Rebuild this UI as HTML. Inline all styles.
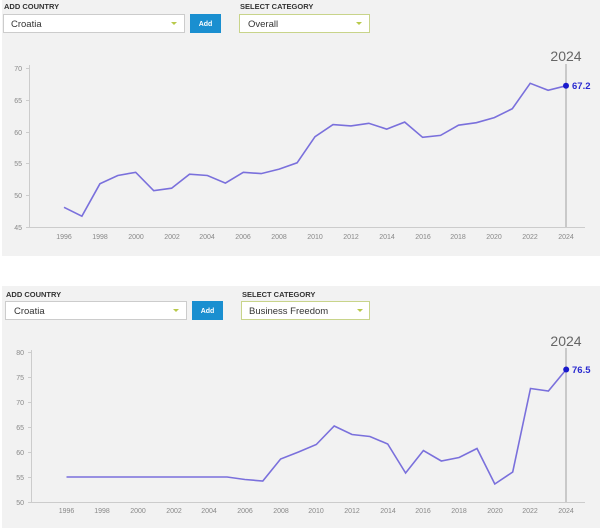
<!DOCTYPE html>
<html><head><meta charset="utf-8"><style>
html,body{margin:0;padding:0;background:#fff;width:600px;height:528px;overflow:hidden}
svg{display:block;font-family:"Liberation Sans",sans-serif}
</style></head><body>
<svg width="600" height="528" viewBox="0 0 600 528">
<rect x="2" y="0" width="598" height="256" fill="#f2f2f2"/>
<rect x="2" y="286" width="598" height="242" fill="#f2f2f2"/>
<g font-size="7.5" font-weight="bold" fill="#333">
<text x="4" y="9">ADD COUNTRY</text><text x="240" y="9">SELECT CATEGORY</text>
<text x="6" y="297">ADD COUNTRY</text><text x="242" y="297">SELECT CATEGORY</text>
</g>
<rect x="3.5" y="14.5" width="181" height="18" fill="#fff" stroke="#ccc"/>
<text x="11" y="27" font-size="9.5" fill="#333">Croatia</text>
<path d="M171 22 l3 3 l3 -3z" fill="#b8c94a"/>
<rect x="190" y="14" width="31" height="19" fill="#1a8fd0"/>
<text x="205.5" y="26" font-size="7" font-weight="bold" fill="#fff" text-anchor="middle">Add</text>
<rect x="239.5" y="14.5" width="130" height="18" fill="#fff" stroke="#c8d48a"/>
<text x="248" y="27" font-size="9.5" fill="#333">Overall</text>
<path d="M356 22 l3 3 l3 -3z" fill="#b8c94a"/>

<rect x="5.5" y="301.5" width="181" height="18" fill="#fff" stroke="#ccc"/>
<text x="14" y="314" font-size="9.5" fill="#333">Croatia</text>
<path d="M173 309 l3 3 l3 -3z" fill="#b8c94a"/>
<rect x="192" y="301" width="31" height="19" fill="#1a8fd0"/>
<text x="207.5" y="313" font-size="7" font-weight="bold" fill="#fff" text-anchor="middle">Add</text>
<rect x="241.5" y="301.5" width="128" height="18" fill="#fff" stroke="#c8d48a"/>
<text x="249" y="314" font-size="9.5" fill="#333">Business Freedom</text>
<path d="M357 309 l3 3 l3 -3z" fill="#b8c94a"/>

<!-- top chart -->
<g stroke="#ccc" stroke-width="1" fill="none">
<path d="M29.5 65 V228 M29 227.5 H585"/>
<path d="M26 68.5h4M26 100.5h4M26 132.5h4M26 163.5h4M26 195.5h4M26 227.5h4"/>
</g>
<g font-size="7" fill="#888" text-anchor="end">
<text x="22" y="71">70</text><text x="22" y="103">65</text><text x="22" y="135">60</text><text x="22" y="166">55</text><text x="22" y="198">50</text><text x="22" y="230">45</text>
</g>
<g font-size="7" fill="#888" text-anchor="middle">
<text x="64" y="239">1996</text><text x="100" y="239">1998</text><text x="136" y="239">2000</text><text x="172" y="239">2002</text><text x="207" y="239">2004</text><text x="243" y="239">2006</text><text x="279" y="239">2008</text><text x="315" y="239">2010</text><text x="351" y="239">2012</text><text x="387" y="239">2014</text><text x="423" y="239">2016</text><text x="458" y="239">2018</text><text x="494" y="239">2020</text><text x="530" y="239">2022</text><text x="566" y="239">2024</text>
</g>
<line x1="566" y1="64" x2="566" y2="227" stroke="#bbb" stroke-width="1.5"/>
<text x="566" y="61" font-size="14" fill="#666" text-anchor="middle">2024</text>
<polyline fill="none" stroke="#7a70dc" stroke-width="1.6" points="64,207.3 81.9,216.2 99.9,183.8 117.8,175.5 135.7,172.3 153.7,190.7 171.6,188.2 189.5,174.2 207.4,175.5 225.4,183.1 243.3,172.3 261.2,173.6 279.2,169.1 297.1,162.8 315,136.7 333,124.6 350.9,125.9 368.8,123.3 386.7,129.1 404.7,122.1 422.6,137.3 440.5,135.4 458.5,125.2 476.4,122.7 494.3,117.6 512.3,108.7 530.2,83.3 548.1,90.3 566,85.8"/>
<circle cx="566" cy="85.8" r="3" fill="#1a1acc"/>
<text x="572" y="89" font-size="9.5" font-weight="bold" fill="#2a2ad0">67.2</text>

<!-- bottom chart -->
<g stroke="#ccc" stroke-width="1" fill="none">
<path d="M31.5 350 V503 M31 502.5 H585"/>
<path d="M28 352.5h4M28 377.5h4M28 402.5h4M28 427.5h4M28 452.5h4M28 477.5h4M28 502.5h4"/>
</g>
<g font-size="7" fill="#888" text-anchor="end">
<text x="24" y="355">80</text><text x="24" y="380">75</text><text x="24" y="405">70</text><text x="24" y="430">65</text><text x="24" y="455">60</text><text x="24" y="480">55</text><text x="24" y="505">50</text>
</g>
<g font-size="7" fill="#888" text-anchor="middle">
<text x="66.5" y="513">1996</text><text x="102" y="513">1998</text><text x="138" y="513">2000</text><text x="174" y="513">2002</text><text x="209" y="513">2004</text><text x="245" y="513">2006</text><text x="281" y="513">2008</text><text x="316" y="513">2010</text><text x="352" y="513">2012</text><text x="388" y="513">2014</text><text x="423" y="513">2016</text><text x="459" y="513">2018</text><text x="495" y="513">2020</text><text x="530" y="513">2022</text><text x="566" y="513">2024</text>
</g>
<line x1="566" y1="348" x2="566" y2="502" stroke="#bbb" stroke-width="1.5"/>
<text x="566" y="346" font-size="14" fill="#666" text-anchor="middle">2024</text>
<polyline fill="none" stroke="#7a70dc" stroke-width="1.6" points="66.5,477 227.1,477 244.9,479.5 262.8,481 280.6,459 298.5,452 316.3,444.5 334.2,426 352,434.5 369.9,436.5 387.7,444 405.6,473 423.4,450.5 441.3,461 459.1,457.5 477,448.5 494.8,484 512.7,472 530.5,388.5 548.4,391 566.2,369.5"/>
<circle cx="566.2" cy="369.5" r="3" fill="#1a1acc"/>
<text x="572" y="373" font-size="9.5" font-weight="bold" fill="#2a2ad0">76.5</text>
</svg>
</body></html>
